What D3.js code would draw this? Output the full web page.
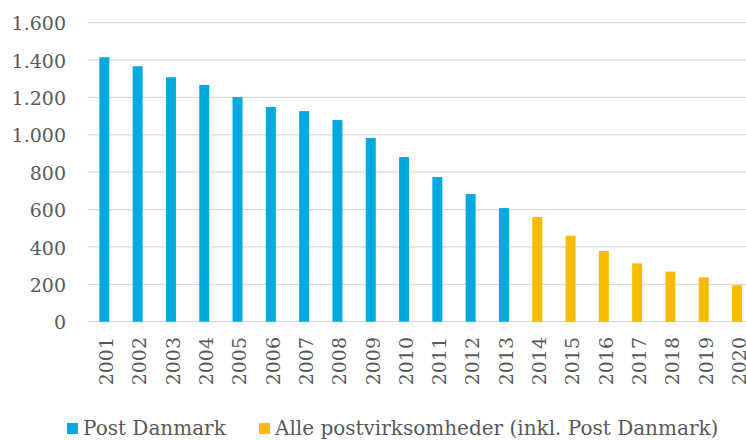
<!DOCTYPE html>
<html lang="da">
<head>
<meta charset="UTF-8">
<script src="https://cdn.jsdelivr.net/npm/d3@7"></script>
<style>
    body { margin: 0; background: #fff; }
    svg text { font-family: "DejaVu Serif", Georgia, serif; fill: #595959; }
</style>
</head>
<body>
<svg id="chart" width="746" height="440"></svg>
<script>
    // data (millioner forsendelser)
    const years = ["2001","2002","2003","2004","2005","2006","2007","2008","2009","2010",
                   "2011","2012","2013","2014","2015","2016","2017","2018","2019","2020"];
    const postDanmark = [1415, 1367, 1308, 1267, 1202, 1149, 1127, 1079, 983, 881, 774, 683, 608];
    const alle = [560, 460, 378, 312, 268, 237, 195];
    const yTicks = [0, 200, 400, 600, 800, 1000, 1200, 1400, 1600];
    const seriesNames = ["Post Danmark", "Alle postvirksomheder (inkl. Post Danmark)"];
    const colors = ["#00a9e0", "#f9bb00"];

    const rows = years.map((yr, i) => i < postDanmark.length
        ? { year: yr, value: postDanmark[i], s: 0 }
        : { year: yr, value: alle[i - postDanmark.length], s: 1 });

    const svg = d3.select("#chart");
    const plotLeft = 87.7, plotBottom = 321.7, plotTop = 22.7;

    // the plot area runs a little past the right edge of the picture
    const x = d3.scaleBand().domain(years)
        .range([plotLeft, plotLeft + 20 * 33.3])
        .paddingInner(0.7).paddingOuter(0.35);
    const y = d3.scaleLinear().domain([0, 1600]).range([plotBottom, plotTop]);

    // gridlines
    svg.append("g").selectAll("line")
        .data(yTicks)
        .join("line")
        .attr("x1", plotLeft).attr("x2", 746)
        .attr("y1", d => y(d)).attr("y2", d => y(d))
        .attr("stroke", "#d9d9d9")
        .attr("stroke-width", 1.3);

    // y tick labels
    svg.append("g").selectAll("text")
        .data(yTicks)
        .join("text")
        .attr("x", 66)
        .attr("y", d => y(d))
        .attr("dy", "0.4em")
        .attr("text-anchor", "end")
        .style("font-size", "19px")
        .text(d => d3.format(",")(d).replace(/,/g, "."));

    // bars
    svg.append("g").selectAll("rect")
        .data(rows)
        .join("rect")
        .attr("x", d => x(d.year))
        .attr("width", x.bandwidth())
        .attr("y", d => y(d.value))
        .attr("height", d => y(0) - y(d.value))
        .attr("fill", d => colors[d.s]);

    // year labels, rotated
    svg.append("g").selectAll("text")
        .data(years)
        .join("text")
        .attr("transform", d => `translate(${x(d) + x.bandwidth() / 2 + 2},337) rotate(-90)`)
        .attr("dy", "0.36em")
        .attr("text-anchor", "end")
        .style("font-size", "19px")
        .text(d => d);

    // legend
    const legendX = [67, 259];
    const legend = svg.append("g").selectAll("g")
        .data(seriesNames)
        .join("g")
        .attr("transform", (d, i) => `translate(${legendX[i]},423)`);
    legend.append("rect")
        .attr("width", 11).attr("height", 11)
        .attr("fill", (d, i) => colors[i]);
    legend.append("text")
        .attr("x", 16)
        .attr("y", 12)
        .style("font-size", "20px")
        .text(d => d);
</script>
</body>
</html>
